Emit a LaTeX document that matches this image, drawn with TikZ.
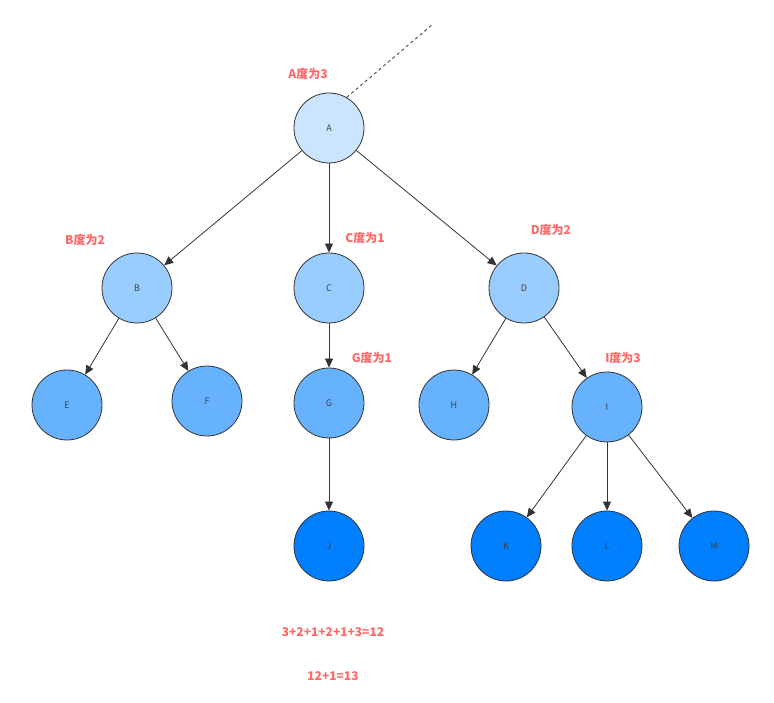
\documentclass[tikz,border=0pt]{standalone}
\usepackage{fontspec}
\setmainfont{Noto Sans CJK SC}
\usetikzlibrary{arrows.meta}
\definecolor{lvA}{HTML}{CCE5FF}
\definecolor{lvB}{HTML}{99CCFF}
\definecolor{lvC}{HTML}{66B2FF}
\definecolor{lvD}{HTML}{007FFF}
\definecolor{deg}{HTML}{FF6666}
\tikzset{
  vert/.style={circle, draw=black!80, thick, minimum size=70pt, inner sep=0pt, font=\fontsize{9}{9}\selectfont, text=black!75},
  arrow/.style={thick, draw=black!80, -{Triangle[length=9pt,width=8pt]}},
  note/.style={text=deg, font=\fontsize{12}{12}\selectfont\bfseries}
}
\begin{document}
\begin{tikzpicture}[x=1pt, y=-1pt]
    \useasboundingbox (0,0) rectangle (774,703);
    % Place nodes
    \node [vert, fill=lvA] (A) at (329,128) {A};
    \node [vert, fill=lvB] (B) at (137,288) {B};
    \node [vert, fill=lvB] (C) at (329,288) {C};
    \node [vert, fill=lvB] (D) at (524,288) {D};
    \node [vert, fill=lvC] (E) at (67,405) {E};
    \node [vert, fill=lvC] (F) at (207,401) {F};
    \node [vert, fill=lvC] (G) at (329,403) {G};
    \node [vert, fill=lvC] (H) at (454,405) {H};
    \node [vert, fill=lvC] (I) at (607,407) {I};
    \node [vert, fill=lvD] (J) at (329,546) {J};
    \node [vert, fill=lvD] (K) at (506,546) {K};
    \node [vert, fill=lvD] (L) at (607,546) {L};
    \node [vert, fill=lvD] (M) at (714,546) {M};
    \coordinate (up) at (433,24);

    \draw [arrow] (A) -- (B);
    \draw [arrow] (A) -- (C);
    \draw [arrow] (A) -- (D);
    \draw [arrow] (B) -- (E);
    \draw [arrow] (B) -- (F);
    \draw [arrow] (C) -- (G);
    \draw [arrow] (G) -- (J);
    \draw [arrow] (D) -- (H);
    \draw [arrow] (D) -- (I);
    \draw [arrow] (I) -- (K);
    \draw [arrow] (I) -- (L);
    \draw [arrow] (I) -- (M);
    \draw [thick, dashed, draw=black!80] (A.60) -- (up);

    % degree notes
    \node [note] (nA) at (308,74) {A度为3};
    \node [note] (nB) at (85,240) {B度为2};
    \node [note] (nC) at (365,238) {C度为1};
    \node [note] (nD) at (551,230) {D度为2};
    \node [note] (nG) at (372,358) {G度为1};
    \node [note] (nI) at (623,358) {I度为3};
    \node [note] (sum) at (333,632) {3+2+1+2+1+3=12};
    \node [note] (tot) at (333,676) {12+1=13};
\end{tikzpicture}
\end{document}
